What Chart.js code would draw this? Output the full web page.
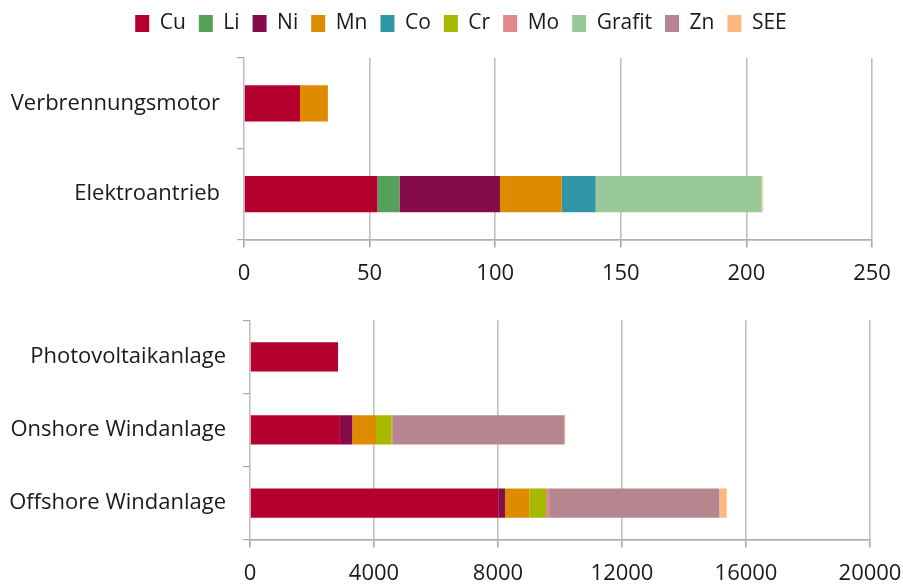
<!DOCTYPE html>
<html>
<head>
<meta charset="utf-8">
<script src="https://cdn.jsdelivr.net/npm/chart.js@4.4.1/dist/chart.umd.min.js"></script>
<style>
  body { margin: 0; background: #fff; width: 903px; height: 585px; overflow: hidden; position: relative; }
  #topBox { position: absolute; left: 0; top: 0; width: 903px; height: 300px; }
  #bottomBox { position: absolute; left: 0; top: 290px; width: 903px; height: 315px; }
</style>
</head>
<body>
<div id="topBox"><canvas id="carChart"></canvas></div>
<div id="bottomBox"><canvas id="energyChart"></canvas></div>
<script>
// metals (legend order)
const metals = ['Cu', 'Li', 'Ni', 'Mn', 'Co', 'Cr', 'Mo', 'Grafit', 'Zn', 'SEE'];
const metalColors = ['#b3002d', '#55a05a', '#860b4a', '#df8b00', '#3196a6', '#a6b800', '#df8a8e', '#99c999', '#b58590', '#fdb87e'];

// top chart: vehicles
const carLabels = ['Verbrennungsmotor', 'Elektroantrieb'];
const carCu = [22.3, 53.1];
const carLi = [0, 8.8];
const carNi = [0, 40];
const carMn = [11.1, 24.6];
const carCo = [0, 13.5];
const carCr = [0, 0];
const carMo = [0, 0];
const carGrafit = [0, 66];
const carZn = [0, 0];
const carSEE = [0, 0.5];

// bottom chart: energy plants
const energyLabels = ['Photovoltaikanlage', 'Onshore Windanlage', 'Offshore Windanlage'];
const energyCu = [2840, 2900, 8010];
const energyLi = [0, 0, 0];
const energyNi = [0, 400, 215];
const energyMn = [0, 765, 785];
const energyCo = [0, 0, 0];
const energyCr = [0, 505, 540];
const energyMo = [0, 40, 100];
const energyGrafit = [0, 0, 0];
const energyZn = [0, 5530, 5490];
const energySEE = [0, 30, 237];

const carSeries = [carCu, carLi, carNi, carMn, carCo, carCr, carMo, carGrafit, carZn, carSEE];
const energySeries = [energyCu, energyLi, energyNi, energyMn, energyCo, energyCr, energyMo, energyGrafit, energyZn, energySEE];

Chart.defaults.font.family = '"Open Sans", sans-serif';
Chart.defaults.color = '#1a1a1a';
Chart.defaults.animation = false;

// extra gap under the legend, and legend shifted right to sit over the whole picture
const legendTweak = {
    id: 'legendTweak',
    afterInit(chart) {
        const legend = chart.legend;
        if (!legend) return;
        const fit = legend.fit;
        legend.fit = function () {
            fit.call(this);
            this.height += 14;
        };
    },
    afterLayout(chart) {
        if (!chart.legend) return;
        chart.legend.left += 25;
        chart.legend.right += 25;
    }
};

function makeDatasets(series) {
    return metals.map((name, i) => ({
        label: name,
        data: series[i],
        backgroundColor: metalColors[i],
        borderWidth: 0,
        barPercentage: 0.8,
        categoryPercentage: 0.5
    }))
}

function makeOptions(max, step, yWidth, showLegend, padding) {
    return {
        indexAxis: 'y',
        responsive: true,
        maintainAspectRatio: false,
        layout: { padding: padding },
        plugins: {
            legend: {
                display: showLegend,
                position: 'top',
                labels: {
                    boxWidth: 14,
                    boxHeight: 17,
                    padding: 13,
                    font: { size: 21 },
                    color: '#1a1a1a'
                }
            },
            tooltip: { enabled: false }
        },
        scales: {
            x: {
                stacked: true,
                min: 0,
                max: max,
                // let layout.padding alone decide the right edge
                afterFit: (axis) => { axis.paddingLeft = 0; axis.paddingRight = 0 },
                ticks: {
                    stepSize: step,
                    font: { size: 22 },
                    color: '#1a1a1a',
                    padding: 13,
                    maxRotation: 0,
                    callback: (v) => String(v) // no thousands separator
                },
                grid: {
                    color: '#c0c0c0',
                    lineWidth: 1.6,
                    tickLength: 8,
                    tickColor: '#a8a8a8'
                },
                border: { color: '#b0b0b0', width: 1.8 }
            },
            y: {
                stacked: true,
                afterFit: (axis) => { axis.width = yWidth },
                ticks: {
                    font: { size: 22 },
                    color: '#1a1a1a',
                    padding: 17
                },
                grid: {
                    offset: true,
                    drawOnChartArea: false,
                    tickLength: 7,
                    tickColor: '#a8a8a8',
                    lineWidth: 1.2
                },
                border: { display: false }
            }
        }
    }
}

const carChart = new Chart(document.getElementById('carChart').getContext('2d'), {
    type: 'bar',
    data: { labels: carLabels, datasets: makeDatasets(carSeries) },
    options: makeOptions(250, 50, 244, true, { left: 0, right: 31, top: 0, bottom: 0 }),
    plugins: [legendTweak]
});

const energyChart = new Chart(document.getElementById('energyChart').getContext('2d'), {
    type: 'bar',
    data: { labels: energyLabels, datasets: makeDatasets(energySeries) },
    options: makeOptions(20000, 4000, 250, false, { left: 0, right: 33, top: 15, bottom: 5 })
});
</script>
</body>
</html>
